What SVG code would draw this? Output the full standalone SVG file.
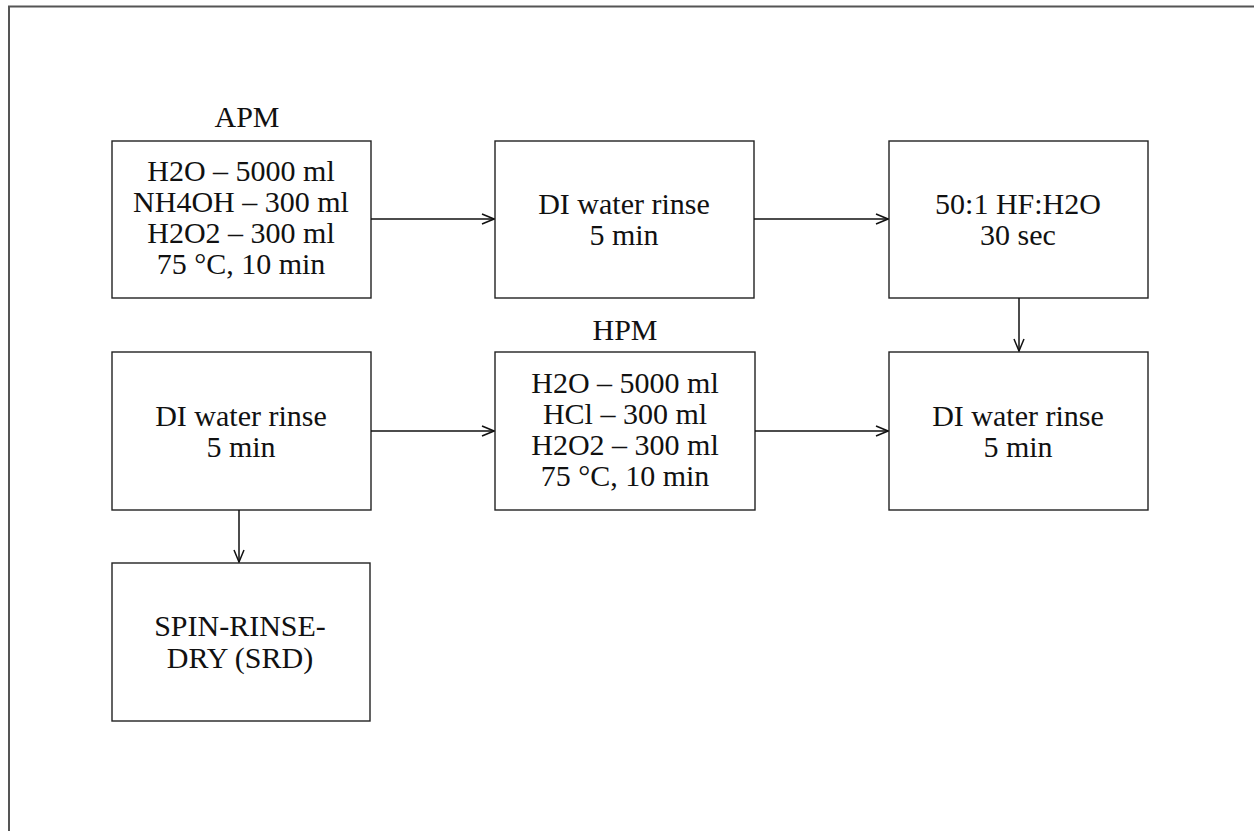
<svg xmlns="http://www.w3.org/2000/svg" width="1254" height="831" viewBox="0 0 1254 831">
  <defs>
    <style>
      .box { fill: #ffffff; stroke: #222222; stroke-width: 1.4; }
      .frame { fill: none; stroke: #555555; stroke-width: 2; }
      .conn { fill: none; stroke: #111111; stroke-width: 1.5; }
      .t { font-family: "Liberation Serif", "Times New Roman", serif; font-size: 30px; fill: #111111; text-anchor: middle; }
    </style>
    <marker id="open" viewBox="0 0 14 12" refX="13" refY="6" markerWidth="14" markerHeight="12" markerUnits="userSpaceOnUse" orient="auto">
      <path d="M1,1 L13,6 L1,11" fill="none" stroke="#111111" stroke-width="1.5"/>
    </marker>
  </defs>

  <rect width="1254" height="831" fill="#ffffff"/>
  <!-- page frame (only top and left edges fall inside the canvas) -->
  <path class="frame" d="M9,831 L9,6.5 L1254,6.5"/>

  <g id="apm">
    <text class="t" x="247" y="127">APM</text>
    <rect class="box" x="112" y="141" width="259" height="157"/>
    <text class="t" x="241" y="181">H2O – 5000 ml</text>
    <text class="t" x="241" y="212">NH4OH – 300 ml</text>
    <text class="t" x="241" y="243">H2O2 – 300 ml</text>
    <text class="t" x="241" y="274">75 °C, 10 min</text>
  </g>

  <g id="rinse1">
    <rect class="box" x="495" y="141" width="259" height="157"/>
    <text class="t" x="624" y="214">DI water rinse</text>
    <text class="t" x="624" y="245">5 min</text>
  </g>

  <g id="hf">
    <rect class="box" x="889" y="141" width="259" height="157"/>
    <text class="t" x="1018" y="214">50:1 HF:H2O</text>
    <text class="t" x="1018" y="245">30 sec</text>
  </g>

  <g id="rinse2">
    <rect class="box" x="112" y="352" width="259" height="158"/>
    <text class="t" x="241" y="426">DI water rinse</text>
    <text class="t" x="241" y="457">5 min</text>
  </g>

  <g id="hpm">
    <text class="t" x="625" y="340">HPM</text>
    <rect class="box" x="495" y="352" width="260" height="158"/>
    <text class="t" x="625" y="393">H2O – 5000 ml</text>
    <text class="t" x="625" y="424">HCl – 300 ml</text>
    <text class="t" x="625" y="455">H2O2 – 300 ml</text>
    <text class="t" x="625" y="486">75 °C, 10 min</text>
  </g>

  <g id="rinse3">
    <rect class="box" x="889" y="352" width="259" height="158"/>
    <text class="t" x="1018" y="426">DI water rinse</text>
    <text class="t" x="1018" y="457">5 min</text>
  </g>

  <g id="srd">
    <rect class="box" x="112" y="563" width="258" height="158"/>
    <text class="t" x="240" y="636">SPIN-RINSE-</text>
    <text class="t" x="240" y="668">DRY (SRD)</text>
  </g>

  <g id="connectors">
    <line class="conn" x1="371" y1="219" x2="494" y2="219" marker-end="url(#open)"/>
    <line class="conn" x1="754" y1="219" x2="888" y2="219" marker-end="url(#open)"/>
    <line class="conn" x1="1019" y1="298" x2="1019" y2="351" marker-end="url(#open)"/>
    <line class="conn" x1="371" y1="431" x2="494" y2="431" marker-end="url(#open)"/>
    <line class="conn" x1="755" y1="431" x2="888" y2="431" marker-end="url(#open)"/>
    <line class="conn" x1="239" y1="510" x2="239" y2="562" marker-end="url(#open)"/>
  </g>
</svg>
